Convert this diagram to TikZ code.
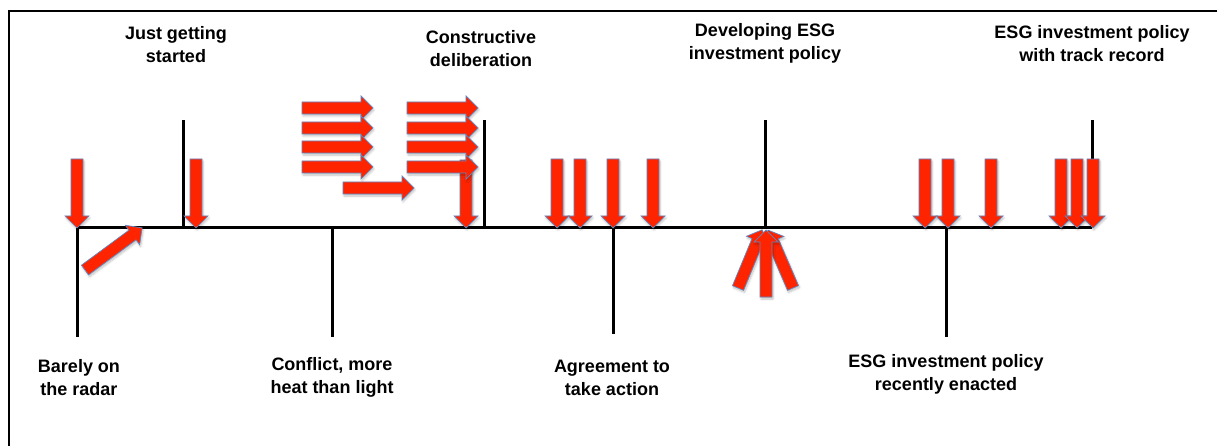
\documentclass[tikz,border=0pt]{standalone}
\usepackage{fontspec}
\setmainfont{Liberation Sans}
\usetikzlibrary{shadows.blur}
\definecolor{arrowred}{RGB}{255,36,0}
\definecolor{arrowedge}{RGB}{96,136,196}
\tikzset{
  x=1pt, y=1pt,
  axis/.style={line width=3pt, black},
  frame/.style={line width=2pt, black},
  label/.style={align=center, font=\bfseries\fontsize{18}{23}\selectfont},
  arrowbody/.style={fill=arrowred, draw=arrowedge, line width=0.7pt, line join=miter,
    blur shadow={shadow xshift=1pt, shadow yshift=-2pt, shadow opacity=25, shadow blur steps=6}},
  % block arrow pointing along +x, starting at the pic origin, of length #1
  blockarrow/.pic={
    \path[arrowbody] (0,-6) -- (#1-12,-6) -- (#1-12,-12) -- (#1,0)
      -- (#1-12,12) -- (#1-12,6) -- (0,6) -- cycle;
  },
}
\begin{document}
\begin{tikzpicture}
\useasboundingbox (0,0) rectangle (1217,-446);
\begin{scope}
  \clip (0,0) rectangle (1217,-446);
  \draw[frame] (9,-11) rectangle (1240,-470);
\end{scope}

% stage points on the time line
\coordinate (s1) at (77,-228);
\coordinate (s2) at (183,-228);
\coordinate (s3) at (332,-228);
\coordinate (s4) at (484,-228);
\coordinate (s5) at (613,-228);
\coordinate (s6) at (765,-228);
\coordinate (s7) at (946,-228);
\coordinate (s8) at (1092,-228);
\coordinate (u2) at (183,-120);
\coordinate (u4) at (484,-120);
\coordinate (u6) at (765,-120);
\coordinate (u8) at (1092,-120);
\coordinate (d1) at (77,-337);
\coordinate (d3) at (332,-337);
\coordinate (d5) at (613,-334);
\coordinate (d7) at (946,-337);

\draw[axis] (s1) -- (s8);
\draw[axis] (s1) -- (d1);
\draw[axis] (s3) -- (d3);
\draw[axis] (s5) -- (d5);
\draw[axis] (s7) -- (d7);
\draw[axis] (s2) -- (u2);
\draw[axis] (s4) -- (u4);
\draw[axis] (s6) -- (u6);
\draw[axis] (s8) -- (u8);

% stage labels
\node[label] (t2) at (176,-45) {Just getting\\started};
\node[label] (t4) at (481,-49) {Constructive\\deliberation};
\node[label] (t6) at (765,-43) {Developing ESG\\investment policy};
\node[label] (t8) at (1092,-44) {ESG investment policy\\with track record};
\node[label] (b1) at (79,-378) {Barely on\\the radar};
\node[label] (b3) at (332,-377) {Conflict, more\\heat than light};
\node[label] (b5) at (612,-378) {Agreement to\\take action};
\node[label] (b7) at (946,-374) {ESG investment policy\\recently enacted};

% downward arrows onto the line
\foreach \x in {77,196,557,580,613,653,925,948,991,1061,1077,1093}
  \pic[rotate=-90] at (\x,-159) {blockarrow=69};
\pic[rotate=-90] at (466,-160) {blockarrow=68};

% rightward arrows
\foreach \y in {108,128,147,167} {
  \pic at (302,-\y) {blockarrow=71};
}
\foreach \y in {108,128,147,167} {
  \pic at (407,-\y) {blockarrow=71};
}
\pic at (343,-188) {blockarrow=71};

% rising arrow near the start
\pic[rotate=36.4] at (85,-270) {blockarrow=71};

% converging arrows under the line
\pic[rotate=67.5] at (738,-288) {blockarrow=63};
\pic[rotate=113.3] at (793,-288) {blockarrow=63};
\pic[rotate=90] at (766,-297) {blockarrow=67};
\end{tikzpicture}
\end{document}
